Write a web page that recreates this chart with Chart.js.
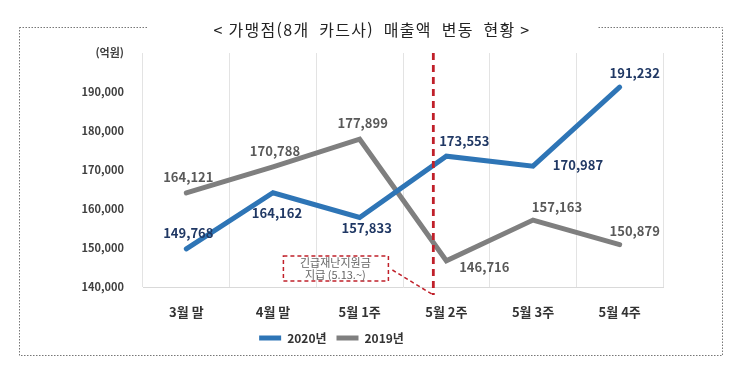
<!DOCTYPE html>
<html lang="ko">
<head>
    <meta charset="UTF-8" />
    <title>가맹점 매출액 변동 현황</title>
    <script src="https://cdn.jsdelivr.net/npm/chart.js"></script>
    <style>
        html, body { margin: 0; padding: 0; background: #fff; }
        #wrap { width: 745px; height: 377px; }
    </style>
</head>
<body>
    <div id="wrap"><canvas id="lineChart" width="745" height="377"></canvas></div>

    <script>
        const categories = ['3월 말', '4월 말', '5월 1주', '5월 2주', '5월 3주', '5월 4주'];
        const sales2020 = [149768, 164162, 157833, 173553, 170987, 191232];
        const sales2019 = [164121, 170788, 177899, 146716, 157163, 150879];
        const yTicks = [140000, 150000, 160000, 170000, 180000, 190000, 200000];

        // 값 라벨 위치 (점 기준 오프셋)
        const offsets2020 = [[2, -16], [4, 20], [7, 11], [18, -15], [45, -1], [15, -14]];
        const offsets2019 = [[2, -16], [2, -16], [3, -16], [38, 6], [24, -13], [15, -14]];

        const FONT = '"Noto Sans CJK KR", "Noto Sans", sans-serif';

        const frame = {
            id: 'frame',
            beforeDraw(chart) {
                const ctx = chart.ctx;
                ctx.save();
                ctx.fillStyle = '#fff';
                ctx.fillRect(0, 0, chart.width, chart.height);
                ctx.strokeStyle = '#777';
                ctx.lineWidth = 1;
                ctx.setLineDash([1.5, 1.5]);
                ctx.strokeRect(19.5, 27.5, 703, 328);
                ctx.setLineDash([]);
                ctx.fillStyle = '#fff';
                ctx.fillRect(147, 20, 450, 16);
                ctx.fillStyle = '#222';
                ctx.font = '16px ' + FONT;
                ctx.letterSpacing = '1.3px';
                ctx.textAlign = 'center';
                ctx.textBaseline = 'middle';
                ctx.fillText('< 가맹점(8개  카드사)  매출액  변동  현황 >', 372, 30);
                ctx.letterSpacing = '0px';
                ctx.restore();
            },
            afterDatasetsDraw(chart) {
                const ctx = chart.ctx;
                const area = chart.chartArea;
                const xs = chart.scales.x;
                ctx.save();
                // 긴급재난지원금 기준선
                const lx = xs.getPixelForValue(2.85);
                ctx.strokeStyle = '#c0202a';
                ctx.lineWidth = 2.8;
                ctx.setLineDash([7, 5]);
                ctx.beginPath();
                ctx.moveTo(lx, area.top);
                ctx.lineTo(lx, area.bottom + 8);
                ctx.stroke();
                // 설명 박스
                const bx = xs.getPixelForValue(1.12), by = area.bottom - 31;
                ctx.lineWidth = 1.5;
                ctx.setLineDash([4, 3]);
                ctx.strokeRect(bx, by, 105, 25);
                ctx.beginPath();
                ctx.moveTo(bx + 109, by + 14);
                ctx.lineTo(lx, area.bottom + 8);
                ctx.stroke();
                ctx.setLineDash([]);
                ctx.fillStyle = '#666';
                ctx.font = '11px ' + FONT;
                ctx.textAlign = 'center';
                ctx.textBaseline = 'middle';
                ctx.fillText('긴급재난지원금', bx + 52, by + 7);
                ctx.fillText('지급 (5.13.~)', bx + 52, by + 19);

                // 값 라벨
                const sets = [
                    { offs: offsets2020, color: '#203864' },
                    { offs: offsets2019, color: '#595959' }
                ];
                ctx.font = 'bold 13px ' + FONT;
                chart.data.datasets.forEach((ds, i) => {
                    const meta = chart.getDatasetMeta(i);
                    meta.data.forEach((pt, j) => {
                        const o = sets[i].offs[j];
                        ctx.fillStyle = sets[i].color;
                        ctx.fillText(ds.data[j].toLocaleString('en-US'), pt.x + o[0], pt.y + o[1]);
                    });
                });
                ctx.restore();
            }
        };

        new Chart(document.getElementById('lineChart'), {
            type: 'line',
            data: {
                labels: categories,
                datasets: [{
                    label: '2020년',
                    data: sales2020,
                    borderColor: '#2e75b6',
                    backgroundColor: '#2e75b6',
                    borderWidth: 5,
                    borderCapStyle: 'round',
                    pointRadius: 0,
                    tension: 0
                }, {
                    label: '2019년',
                    data: sales2019,
                    borderColor: '#7f7f7f',
                    backgroundColor: '#7f7f7f',
                    borderWidth: 5,
                    borderCapStyle: 'round',
                    pointRadius: 0,
                    tension: 0
                }]
            },
            options: {
                responsive: false,
                animation: false,
                layout: { padding: { top: 53, right: 82, bottom: 23, left: 0 } },
                plugins: {
                    title: { display: false },
                    tooltip: { enabled: false },
                    legend: {
                        position: 'bottom',
                        labels: {
                            usePointStyle: true,
                            pointStyle: 'line',
                            pointStyleWidth: 22,
                            boxWidth: 22,
                            boxHeight: 12,
                            padding: 10,
                            color: '#333',
                            font: { family: FONT, size: 12, weight: 'bold' }
                        }
                    }
                },
                scales: {
                    x: {
                        offset: true,
                        grid: { color: '#e3e3e3', lineWidth: 1, drawTicks: false, offset: true },
                        border: { display: true, color: '#d9d9d9' },
                        ticks: {
                            padding: 17,
                            color: '#333',
                            font: { family: FONT, size: 13, weight: 'bold' }
                        },
                        afterFit(scale) { scale.height = 35; }
                    },
                    y: {
                        min: yTicks[0],
                        max: yTicks[yTicks.length - 1],
                        grid: { display: false, drawTicks: false },
                        border: { display: false },
                        afterBuildTicks(scale) { scale.ticks = yTicks.map(v => ({ value: v })); },
                        ticks: {
                            padding: 19,
                            color: '#404040',
                            font: { family: FONT, size: 11, weight: 'bold' },
                            callback: v => v === 200000 ? '(억원)' : v.toLocaleString('en-US')
                        },
                        afterFit(scale) { scale.width = 143; }
                    }
                }
            },
            plugins: [frame]
        });
    </script>
</body>
</html>
